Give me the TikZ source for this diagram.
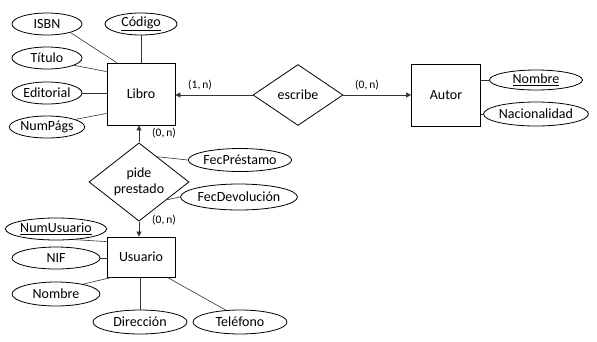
\documentclass[tikz,border=0pt]{standalone}
\usepackage{fontspec}
\setmainfont{Carlito}
\usetikzlibrary{shapes.geometric,arrows.meta,calc}
\begin{document}
\begin{tikzpicture}[x=1pt,y=-1pt,
  every node/.style={font=\fontsize{14}{15}\selectfont},
  entity/.style={draw,thick,rectangle,inner sep=0pt,minimum width=68pt,minimum height=62pt},
  attr/.style={draw,thick,ellipse,inner sep=0pt,minimum width=#1,minimum height=22pt},
  attr/.default=72pt,
  rel/.style={draw,thick,diamond,inner sep=0pt,align=center},
  link/.style={draw=black!80,semithick},
  card/.style={font=\fontsize{11.5}{12}\selectfont},
  tip/.style={-{Triangle[length=5pt,width=5pt]}}
]
\useasboundingbox (0,0) rectangle (597,341);

% Libro and its attributes
\node[entity] (libro) at (141,94) {Libro};
\node[attr] (codigo) at (141,24) {\underline{Código}};
\node[attr=70pt] (isbn) at (47,24) {ISBN};
\node[attr=70pt] (titulo) at (47,58) {Título};
\node[attr=70pt] (editorial) at (47,93) {Editorial};
\node[attr=70pt] (numpags) at (47,127) {NumPágs};

\draw[link] (codigo.south) -- (libro.north);
\draw[link] (isbn.-20) -- ($(libro.north west)+(10,0)$);
\draw[link] (titulo.-15) -- ($(libro.north west)+(0,9)$);
\draw[link] (editorial.east) -- (editorial.east -| libro.west);
\draw[link] (numpags.15) -- ($(libro.south west)+(0,-12)$);

% escribe / Autor
\node[rel,minimum width=90pt,minimum height=61pt] (escribe) at (298,95) {escribe};
\node[entity,minimum width=69pt] (autor) at (446,95) {Autor};
\node[attr=93pt,minimum height=20pt] (nombrea) at (536,80) {\underline{Nombre}};
\node[attr=95pt,minimum height=24pt] (nacion) at (536,114) {Nacionalidad};

\draw[link,tip] (escribe.west) -- (escribe.west -| libro.east);
\draw[link,tip] (escribe.east) -- (escribe.east -| autor.west);
\node[card] (c1) at (200,85) {(1,\,n)};
\node[card] (c2) at (367,85) {(0,\,n)};
\draw[link] (nombrea.west -| autor.east) -- (nombrea.west);
\draw[link] (nacion.west -| autor.east) -- (nacion.west);

% pide prestado
\node[rel,minimum width=100pt,minimum height=67pt] (pide) at (139,182) {pide\\[1pt]prestado};
\node[attr=96pt,minimum height=23pt] (fecp) at (240,160) {FecPréstamo};
\node[attr=98pt,minimum height=26pt] (fecd) at (239,197) {FecDevolución};
\draw[link] ($(pide.north)!0.36!(pide.east)$) -- (fecp.west);
\draw[link] ($(pide.east)!0.45!(pide.south)$) -- (fecd.west);

% Usuario and its attributes
\node[entity,minimum height=40pt] (usuario) at (141,257) {Usuario};
\draw[link,tip] (pide.north) -- (pide.north |- libro.south);
\draw[link,tip] (pide.south) -- (pide.south |- usuario.north);
\node[card] (c3) at (164,133) {(0,\,n)};
\node[card] (c4) at (164,220) {(0,\,n)};

\node[attr=88pt] (numusuario) at (56,229) {\underline{NumUsuario}};
\node[attr=88pt] (nif) at (56,258) {NIF};
\node[attr=88pt,minimum height=24pt] (nombreu) at (56,294) {Nombre};
\node[attr=94pt,minimum height=24pt] (direccion) at (140,322) {Dirección};
\node[attr=94pt,minimum height=24pt] (telefono) at (240,322) {Teléfono};

\draw[link] (numusuario.-30) -- ($(usuario.north west)+(0,5)$);
\draw[link] (nif.east) -- (nif.east -| usuario.west);
\draw[link] (nombreu.20) -- ($(usuario.south west)+(5,0)$);
\draw[link] (direccion.north |- usuario.south) -- (direccion.north);
\draw[link] ($(usuario.south east)+(-8,0)$) -- (telefono.140);
\end{tikzpicture}
\end{document}
